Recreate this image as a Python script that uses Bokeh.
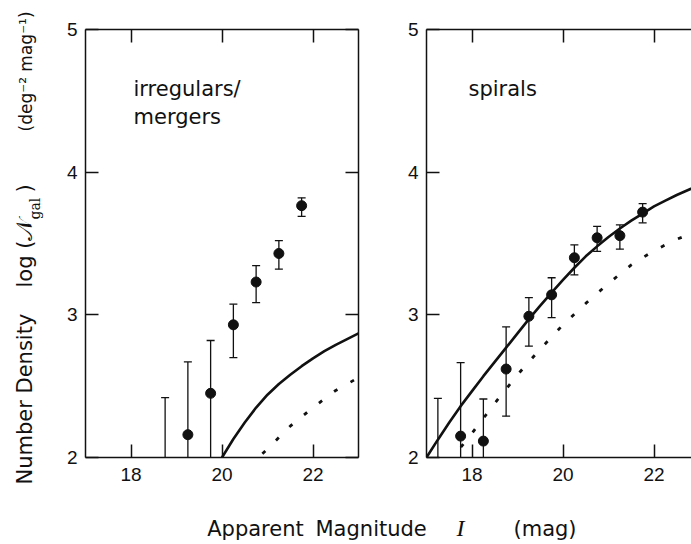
from math import nan, pi
from bokeh.plotting import figure
from bokeh.models import Range1d, LinearAxis, CustomJSTickFormatter
from bokeh.core.properties import value
from bokeh.layouts import row, column
from bokeh.embed import file_html
from bokeh.resources import INLINE

# ---------------- data ----------------
x_ticks = [18, 20, 22]
y_ticks = [2, 3, 4, 5]

# irregulars / mergers: observed counts (log N) with error bars
irr_mag = [18.75, 19.25, 19.75, 20.25, 20.75, 21.25, 21.75]
irr_logn = [nan, 2.16, 2.45, 2.93, 3.23, 3.43, 3.765]
irr_upper = [2.42, 2.67, 2.82, 3.075, 3.345, 3.52, 3.82]
irr_lower = [1.0, 1.0, 1.0, 2.70, 3.085, 3.32, 3.69]

# irregulars / mergers: model curves
irr_model_mag = [19.8, 20.0, 20.25, 20.5, 20.75, 21.0, 21.25, 21.5, 21.75,
                 22.0, 22.25, 22.5, 22.75, 23.0]
irr_model_solid = [1.88, 2.0, 2.13, 2.245, 2.35, 2.44, 2.515, 2.58, 2.64,
                   2.695, 2.745, 2.79, 2.83, 2.87]
irr_model2_mag = [20.6, 20.8, 21.0, 21.5, 22.0, 22.5, 23.0]
irr_model_dotted = [1.93, 2.0, 2.06, 2.22, 2.35, 2.47, 2.56]

# spirals: observed counts
sp_mag = [17.25, 17.75, 18.25, 18.75, 19.25, 19.75, 20.25, 20.75, 21.25, 21.75]
sp_logn = [nan, 2.15, 2.115, 2.62, 2.99, 3.14, 3.40, 3.54, 3.555, 3.72]
sp_upper = [2.415, 2.665, 2.41, 2.915, 3.12, 3.26, 3.49, 3.62, 3.63, 3.78]
sp_lower = [1.0, 1.0, 1.0, 2.29, 2.78, 2.98, 3.28, 3.445, 3.46, 3.645]

# spirals: model curves
sp_model_mag = [16.8, 17.0, 17.25, 17.5, 17.75, 18.0, 18.25, 18.5, 18.75, 19.0,
                19.25, 19.5, 19.75, 20.0, 20.25, 20.5, 20.75, 21.0, 21.25,
                21.5, 21.75, 22.0, 22.25, 22.5, 22.75, 23.0]
sp_model_solid = [1.9, 2.0, 2.125, 2.245, 2.36, 2.465, 2.57, 2.67, 2.77, 2.87,
                  2.97, 3.065, 3.155, 3.245, 3.33, 3.41, 3.48, 3.545, 3.605,
                  3.66, 3.71, 3.76, 3.80, 3.84, 3.875, 3.91]
sp_model2_mag = [17.3, 17.5, 18.0, 18.5, 19.0, 19.5, 20.0, 20.5, 21.0, 21.5, 22.0, 22.5, 23.0]
sp_model_dotted = [1.85, 1.97, 2.17, 2.38, 2.58, 2.76, 2.93, 3.08, 3.22, 3.35, 3.45, 3.53, 3.59]

INK = "#111111"
LAB_FONT = "DejaVu Sans"
TICK_FONT = "Liberation Sans"
ROW_H = 495
PAGE_H = 544
PAGE_W = 691
STRIP_W = 48
DROP = 0.33  # renderer places the alphabetic baseline about a third of an em below the anchor


def style_axis(ax, show_labels, standoff=8):
    ax.major_tick_in = 13
    ax.major_tick_out = 0
    ax.minor_tick_in = 0
    ax.minor_tick_out = 0
    ax.axis_line_width = 1.5
    ax.axis_line_color = INK
    ax.major_tick_line_width = 1.5
    ax.major_tick_line_color = INK
    ax.major_label_text_font = TICK_FONT
    ax.major_label_text_font_size = "19px"
    ax.major_label_text_color = INK
    if show_labels:
        ax.major_label_standoff = standoff
    else:
        ax.formatter = CustomJSTickFormatter(code="return ''")
        ax.major_label_standoff = 0


def make_panel(width, b_left, b_right, x_end, right_axis):
    p = figure(width=width, height=ROW_H,
               x_range=Range1d(17, x_end), y_range=Range1d(2, 5),
               output_backend="svg", toolbar_location=None,
               x_axis_location=None, y_axis_location=None,
               min_border_left=b_left, min_border_right=b_right,
               min_border_top=29, min_border_bottom=38)
    p.outline_line_color = None
    p.grid.visible = False

    bottom = LinearAxis(ticker=x_ticks)
    style_axis(bottom, True, standoff=10)
    p.add_layout(bottom, "below")
    top = LinearAxis(ticker=x_ticks)
    style_axis(top, False)
    p.add_layout(top, "above")
    left = LinearAxis(ticker=y_ticks)
    style_axis(left, True, standoff=8)
    p.add_layout(left, "left")
    if right_axis:
        right = LinearAxis(ticker=y_ticks)
        style_axis(right, False)
        p.add_layout(right, "right")
    return p


def draw(p, mag, logn, up, lo, m1x, m1y, m2x, m2y):
    p.line(m1x, m1y, line_width=2.6, line_color=INK)
    p.line(m2x, m2y, line_width=2.8, line_color=INK, line_dash="4 15")
    p.segment(x0=mag, y0=lo, x1=mag, y1=up, line_width=1.3, line_color=INK)
    p.scatter(mag, up, marker="dash", size=8, line_width=1.3, line_color=INK)
    p.scatter(mag, lo, marker="dash", size=8, line_width=1.3, line_color=INK)
    p.scatter(mag, logn, marker="circle", size=10, fill_color=INK, line_color=INK)


def txt(p, x, y, text, size=21, font=LAB_FONT, style="normal", angle=0.0):
    p.text(x=[x], y=[y], text=[text], angle=angle,
           text_font=value(font), text_font_size=f"{size}px", text_font_style=style,
           text_color=INK, text_align="left", text_baseline="alphabetic")


# left panel
p1 = make_panel(344, 37, 34, 23, True)
draw(p1, irr_mag, irr_logn, irr_upper, irr_lower,
     irr_model_mag, irr_model_solid, irr_model2_mag, irr_model_dotted)

# right panel (cut at the right edge as in the original)
p2 = make_panel(PAGE_W - 392, 34, 0, 17 + (PAGE_W - 426) / 45.5, False)
draw(p2, sp_mag, sp_logn, sp_upper, sp_lower,
     sp_model_mag, sp_model_solid, sp_model2_mag, sp_model_dotted)


# page pixel -> panel data (text placement only)
def p1x(px):
    return 17 + (px - 85) / 45.5


def p2x(px):
    return 17 + (px - 426) / 45.5


def py_(py, size=21):
    return 2 + (457 - (py - DROP * size)) / (428 / 3)


txt(p1, p1x(133), py_(95), "irregulars/")
txt(p1, p1x(133), py_(123), "mergers")
txt(p2, p2x(468), py_(95), "spirals")

# full-height strip on the left holding the vertical axis title
# (x = page px, y = PAGE_H - page py)
p0 = figure(width=STRIP_W, height=PAGE_H, x_range=Range1d(0, STRIP_W), y_range=Range1d(0, PAGE_H),
            output_backend="svg", toolbar_location=None,
            x_axis_location=None, y_axis_location=None, min_border=0)
p0.outline_line_color = None
p0.grid.visible = False
V = pi / 2


def vtxt(base_x, start_y, text, size=21, font=LAB_FONT):
    txt(p0, base_x - DROP * size, PAGE_H - start_y, text, size=size, font=font, angle=V)


vtxt(31.5, 484, "Number  Density")
vtxt(31.5, 287, "log (")
vtxt(31.5, 240, "𝒩", size=23, font="DejaVu Serif")
vtxt(39.0, 219, "gal", size=14, font="DejaVu Serif")
vtxt(31.5, 192, ")")
vtxt(31.5, 131, "(deg⁻² mag⁻¹)", size=17)

# strip below the panels holding the horizontal axis title
# (x = page px, y = PAGE_H - page py)
H3 = PAGE_H - ROW_H
p3 = figure(width=PAGE_W - STRIP_W, height=H3, x_range=Range1d(STRIP_W, PAGE_W), y_range=Range1d(0, H3),
            output_backend="svg", toolbar_location=None,
            x_axis_location=None, y_axis_location=None, min_border=0)
p3.outline_line_color = None
p3.grid.visible = False


def htxt(x, base_y, text, size=21, font=LAB_FONT, style="normal"):
    txt(p3, x, PAGE_H - (base_y - DROP * size), text, size=size, font=font, style=style)


htxt(206.7, 535.5, "Apparent")
htxt(315, 535.5, "Magnitude")
htxt(456, 535.5, "I", size=24, font="Liberation Serif", style="italic")
htxt(513, 535.5, "(mag)")

layout = row(p0, column(row(p1, p2), p3))
open("out.html", "w").write(file_html(layout, INLINE))
